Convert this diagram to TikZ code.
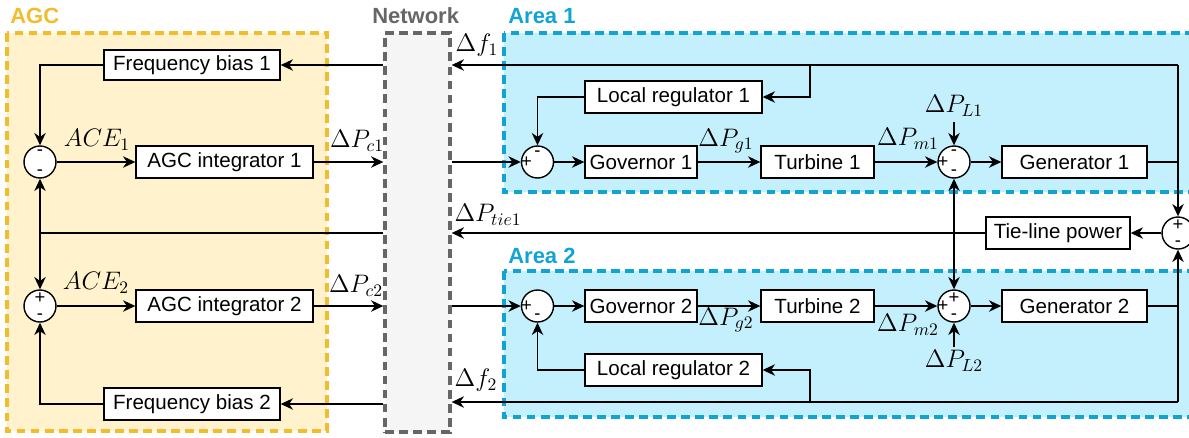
\documentclass[tikz,border=0pt]{standalone}
\usepackage[no-math]{fontspec}
\setmainfont{Liberation Sans}
\usetikzlibrary{arrows.meta,calc}
\definecolor{agcline}{RGB}{242,188,45}
\definecolor{agcfill}{RGB}{255,242,204}
\definecolor{netline}{RGB}{102,102,102}
\definecolor{netfill}{RGB}{245,245,245}
\definecolor{arealine}{RGB}{16,163,214}
\definecolor{areafill}{RGB}{196,240,253}
\begin{document}
\begin{tikzpicture}[x=0.02cm,y=-0.02cm,
  >={Stealth[length=7pt,width=6.5pt,inset=2.2pt]},
  blk/.style={draw,line width=0.8pt,fill=white,inner sep=0pt,minimum height=0.64cm,
    font=\fontsize{11.7}{14}\selectfont},
  sumnode/.style={circle,draw,line width=0.8pt,fill=white,minimum size=0.64cm,inner sep=0pt},
  sgn/.style={inner sep=0pt,font=\fontsize{10.5}{11}\selectfont},
  sig/.style={inner sep=0pt,font=\fontsize{14}{16}\selectfont},
  wire/.style={line width=0.8pt},
  zonetitle/.style={font=\fontsize{12.5}{15}\selectfont\bfseries,inner sep=0pt,anchor=west},
  zone/.style={line width=1.9pt,dash pattern=on 5pt off 3pt}
]
\useasboundingbox (0,0) rectangle (1189,437);

% ---- zones ----
\draw[zone,draw=agcline,fill=agcfill] (7,33) rectangle (327,431);
\draw[zone,draw=arealine,fill=areafill] (504,33) rectangle (1196,192);
\draw[zone,draw=arealine,fill=areafill] (504,271) rectangle (1196,417);
\node[zone,draw=netline,fill=netfill,minimum width=1.3cm,minimum height=7.98cm,inner sep=0pt]
  (net) at (417.5,232.5) {};

\node[zonetitle,text=agcline] (tagc) at (10,16) {AGC};
\node[zonetitle,text=netline] (tnet) at (372,16) {Network};
\node[zonetitle,text=arealine] (tar1) at (508,16) {Area 1};
\node[zonetitle,text=arealine] (tar2) at (508,256) {Area 2};

% ---- AGC blocks ----
\node[blk,minimum width=3.52cm,minimum height=0.6cm] (fb1) at (192,65) {Frequency bias 1};
\node[blk,minimum width=3.52cm] (fb2) at (192,404) {Frequency bias 2};
\node[blk,minimum width=3.54cm] (int1) at (224.5,162) {AGC integrator 1};
\node[blk,minimum width=3.54cm] (int2) at (224.5,306) {AGC integrator 2};
\node[sumnode] (a1) at (40,162) {};
\node[sumnode] (a2) at (40,306) {};

% ---- Area 1 blocks ----
\node[sumnode] (g1s) at (537.5,162) {};
\node[blk,minimum width=2.24cm] (gov1) at (641,162) {Governor 1};
\node[blk,minimum width=2.26cm] (tur1) at (817.5,162) {Turbine 1};
\node[sumnode] (m1s) at (954,162) {};
\node[blk,minimum width=2.9cm] (gen1) at (1074.5,162) {Generator 1};
\node[blk,minimum width=3.54cm] (lr1) at (673.5,97) {Local regulator 1};

% ---- Area 2 blocks ----
\node[sumnode] (g2s) at (537.5,306) {};
\node[blk,minimum width=2.24cm] (gov2) at (641,306) {Governor 2};
\node[blk,minimum width=2.26cm] (tur2) at (817.5,306) {Turbine 2};
\node[sumnode] (m2s) at (954,306) {};
\node[blk,minimum width=2.9cm] (gen2) at (1074.5,306) {Generator 2};
\node[blk,minimum width=3.54cm] (lr2) at (673.5,370) {Local regulator 2};

% ---- tie-line ----
\node[sumnode] (ts) at (1178,233) {};
\node[blk,minimum width=2.88cm] (tie) at (1058,233) {Tie-line power};

% ---- signs in the summing junctions ----
\node[sgn] (a1t) at ([yshift=0.19cm]a1.center) {-};
\node[sgn] (a1b) at ([yshift=-0.22cm]a1.center) {-};
\node[sgn] (a2t) at ([yshift=0.16cm]a2.center) {+};
\node[sgn] (a2b) at ([yshift=-0.22cm]a2.center) {-};
\node[sgn] (g1l) at ([xshift=-0.22cm]g1s.center) {+};
\node[sgn] (g1t) at ([yshift=0.17cm]g1s.center) {-};
\node[sgn] (g2l) at ([xshift=-0.22cm]g2s.center) {+};
\node[sgn] (g2b) at ([yshift=-0.22cm]g2s.center) {-};
\node[sgn] (m1l) at ([xshift=-0.22cm]m1s.center) {+};
\node[sgn] (m1t) at ([yshift=0.19cm]m1s.center) {-};
\node[sgn] (m1b) at ([yshift=-0.22cm]m1s.center) {-};
\node[sgn] (m2l) at ([xshift=-0.22cm]m2s.center) {+};
\node[sgn] (m2t) at ([yshift=0.16cm]m2s.center) {+};
\node[sgn] (m2b) at ([yshift=-0.22cm]m2s.center) {-};
\node[sgn] (tst) at ([yshift=0.16cm]ts.center) {+};
\node[sgn] (tsb) at ([yshift=-0.22cm]ts.center) {-};

% ---- junction points ----
\coordinate (ja) at (40,233);
\coordinate (j1) at (1178,65);
\coordinate (b1) at (810,65);
\coordinate (j2) at (1178,402);
\coordinate (b2) at (810,402);
\coordinate (jt) at (954,233);
\coordinate (pl1) at (954,122);
\coordinate (pl2) at (954,347);

% ---- AGC wiring ----
\draw[wire,->] (net.west |- fb1) -- (fb1.east);
\draw[wire,->] (fb1.west) -| (a1.north);
\draw[wire,->] (net.west |- fb2) -- (fb2.east);
\draw[wire,->] (fb2.west) -| (a2.south);
\draw[wire,->] (a1.east) -- (int1.west);
\draw[wire,->] (a2.east) -- (int2.west);
\draw[wire,->] (int1.east) -- (net.west |- int1);
\draw[wire,->] (int2.east) -- (net.west |- int2);
\draw[wire] (net.west |- ja) -- (ja);
\draw[wire,->] (ja) -- (a1.south);
\draw[wire,->] (ja) -- (a2.north);

% ---- Area 1 wiring ----
\draw[wire,->] (net.east |- g1s) -- (g1s.west);
\draw[wire,->] (g1s.east) -- (gov1.west);
\draw[wire,->] (gov1.east) -- (tur1.west);
\draw[wire,->] (tur1.east) -- (m1s.west);
\draw[wire,->] (m1s.east) -- (gen1.west);
\draw[wire] (gen1.east) -- (gen1.east -| j1);
\draw[wire,->] (j1) -- (ts.north);
\draw[wire,->] (j1) -- (net.east |- j1);
\draw[wire,->] (b1) |- (lr1.east);
\draw[wire,->] (lr1.west) -| (g1s.north);
\draw[wire,->] (pl1) -- (m1s.north);

% ---- Area 2 wiring ----
\draw[wire,->] (net.east |- g2s) -- (g2s.west);
\draw[wire,->] (g2s.east) -- (gov2.west);
\draw[wire,->] (gov2.east) -- (tur2.west);
\draw[wire,->] (tur2.east) -- (m2s.west);
\draw[wire,->] (m2s.east) -- (gen2.west);
\draw[wire] (gen2.east) -- (gen2.east -| j2);
\draw[wire,->] (j2) -- (ts.south);
\draw[wire,->] (j2) -- (net.east |- j2);
\draw[wire,->] (b2) |- (lr2.east);
\draw[wire,->] (lr2.west) -| (g2s.south);
\draw[wire,->] (pl2) -- (m2s.south);

% ---- tie-line wiring ----
\draw[wire,->] (ts.west) -- (tie.east);
\draw[wire,->] (tie.west) -- (net.east |- tie);
\draw[wire,->] (jt) -- (m1s.south);
\draw[wire,->] (jt) -- (m2s.north);

% ---- signal labels ----
\node[sig] (lace1) at (97,140) {$ACE_1$};
\node[sig] (lace2) at (96,283) {$ACE_2$};
\node[sig] (lpc1) at (357,141) {$\Delta P_{c1}$};
\node[sig] (lpc2) at (356,286) {$\Delta P_{c2}$};
\node[sig] (lf1) at (477,45) {$\Delta f_1$};
\node[sig] (lf2) at (476,380) {$\Delta f_2$};
\node[sig] (ltie) at (488,215) {$\Delta P_{tie1}$};
\node[sig] (lpg1) at (726,141) {$\Delta P_{g1}$};
\node[sig] (lpg2) at (726,320) {$\Delta P_{g2}$};
\node[sig] (lpm1) at (908,139) {$\Delta P_{m1}$};
\node[sig] (lpm2) at (908,325) {$\Delta P_{m2}$};
\node[sig] (lpl1) at (954,106) {$\Delta P_{L1}$};
\node[sig] (lpl2) at (954,361) {$\Delta P_{L2}$};
\end{tikzpicture}
\end{document}
